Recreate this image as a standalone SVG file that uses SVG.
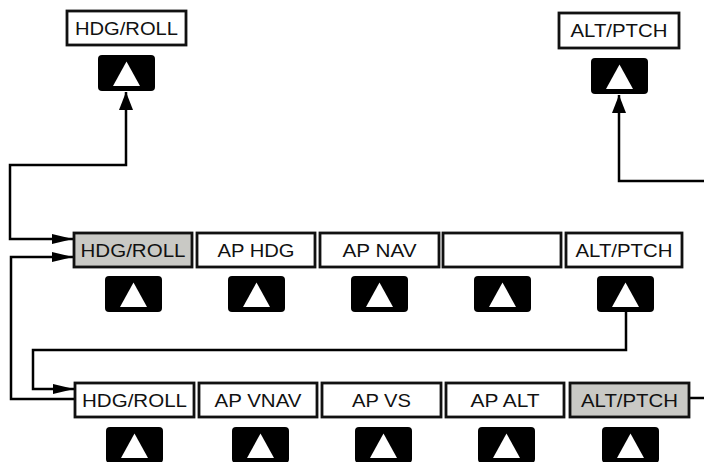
<svg xmlns="http://www.w3.org/2000/svg" xmlns:xlink="http://www.w3.org/1999/xlink" width="704" height="462" viewBox="0 0 704 462">
<style>
.box{fill:#ffffff;stroke:#111;stroke-width:2.8}
.sel{fill:#c9c9c5;stroke:#111;stroke-width:2.8}
.lbl{font-family:"Liberation Sans",Arial,sans-serif;font-size:18px;fill:#111;text-anchor:middle}
.wire{fill:none;stroke:#000;stroke-width:2.5}
</style>
<defs>
<g id="btn">
<rect x="0" y="0" width="57" height="36" rx="4" fill="#000"/>
<polygon points="28.5,6.5 42,31 15,31" fill="#fff"/>
</g>
<marker id="ah" markerUnits="userSpaceOnUse" markerWidth="21" markerHeight="10" refX="21" refY="5" orient="auto-start-reverse" viewBox="0 0 21 10">
<path d="M0,0 L21,5 L0,10 z" fill="#000"/>
</marker>
<marker id="av" markerUnits="userSpaceOnUse" markerWidth="18" markerHeight="14" refX="18" refY="7" orient="auto-start-reverse" viewBox="0 0 18 14">
<path d="M0,0 L18,7 L0,14 z" fill="#000"/>
</marker>
</defs>

<g id="connectors">
<path class="wire" d="M126,92 V165 H10 V239 H73" marker-start="url(#av)" marker-end="url(#ah)"/>
<path class="wire" d="M75,399 H11 V257 H73"  marker-end="url(#ah)"/>
<path class="wire" d="M626,311 V350 H33 V389 H74" marker-end="url(#ah)"/>
<path class="wire" d="M704,181 H619 V95" marker-end="url(#av)"/>
<path class="wire" d="M689,398 H704"/>
</g>

<g id="top-hdg-roll">
<rect class="box" x="67" y="11" width="119" height="34"/>
<text class="lbl" x="126.5" y="34.5" textLength="103" lengthAdjust="spacingAndGlyphs">HDG/ROLL</text>
</g>
<g id="top-hdg-roll-key"><use xlink:href="#btn" x="98" y="55"/></g>

<g id="top-alt-ptch">
<rect class="box" x="559" y="13" width="120" height="35"/>
<text class="lbl" x="619" y="37" textLength="97" lengthAdjust="spacingAndGlyphs">ALT/PTCH</text>
</g>
<g id="top-alt-ptch-key"><use xlink:href="#btn" x="591" y="58"/></g>

<g id="m1"><rect class="sel" x="74" y="233" width="118" height="34"/>
<text class="lbl" x="133" y="257" textLength="105" lengthAdjust="spacingAndGlyphs">HDG/ROLL</text></g>
<g id="m2"><rect class="box" x="197" y="233" width="118" height="34"/>
<text class="lbl" x="256" y="257" textLength="77" lengthAdjust="spacingAndGlyphs">AP HDG</text></g>
<g id="m3"><rect class="box" x="320" y="233" width="119" height="34"/>
<text class="lbl" x="379.5" y="257" textLength="74" lengthAdjust="spacingAndGlyphs">AP NAV</text></g>
<g id="m4"><rect class="box" x="443" y="233" width="118" height="34"/></g>
<g id="m5"><rect class="box" x="566" y="233" width="116" height="34"/>
<text class="lbl" x="624" y="257" textLength="97" lengthAdjust="spacingAndGlyphs">ALT/PTCH</text></g>

<g id="mk1"><use xlink:href="#btn" x="105" y="276"/></g>
<g id="mk2"><use xlink:href="#btn" x="228" y="276"/></g>
<g id="mk3"><use xlink:href="#btn" x="351" y="276"/></g>
<g id="mk4"><use xlink:href="#btn" x="474" y="276"/></g>
<g id="mk5"><use xlink:href="#btn" x="597" y="276"/></g>

<g id="b1"><rect class="box" x="75" y="383" width="119" height="34"/>
<text class="lbl" x="134.5" y="407" textLength="105" lengthAdjust="spacingAndGlyphs">HDG/ROLL</text></g>
<g id="b2"><rect class="box" x="199" y="383" width="118" height="34"/>
<text class="lbl" x="258" y="407" textLength="87" lengthAdjust="spacingAndGlyphs">AP VNAV</text></g>
<g id="b3"><rect class="box" x="322" y="383" width="119" height="34"/>
<text class="lbl" x="381.5" y="407" textLength="59" lengthAdjust="spacingAndGlyphs">AP VS</text></g>
<g id="b4"><rect class="box" x="446" y="383" width="118" height="34"/>
<text class="lbl" x="505" y="407" textLength="69" lengthAdjust="spacingAndGlyphs">AP ALT</text></g>
<g id="b5"><rect class="sel" x="570" y="383" width="119" height="34"/>
<text class="lbl" x="629.5" y="407" textLength="97" lengthAdjust="spacingAndGlyphs">ALT/PTCH</text></g>

<g id="bk1"><use xlink:href="#btn" x="106" y="427"/></g>
<g id="bk2"><use xlink:href="#btn" x="232" y="427"/></g>
<g id="bk3"><use xlink:href="#btn" x="355" y="427"/></g>
<g id="bk4"><use xlink:href="#btn" x="478" y="427"/></g>
<g id="bk5"><use xlink:href="#btn" x="602" y="427"/></g>
</svg>
